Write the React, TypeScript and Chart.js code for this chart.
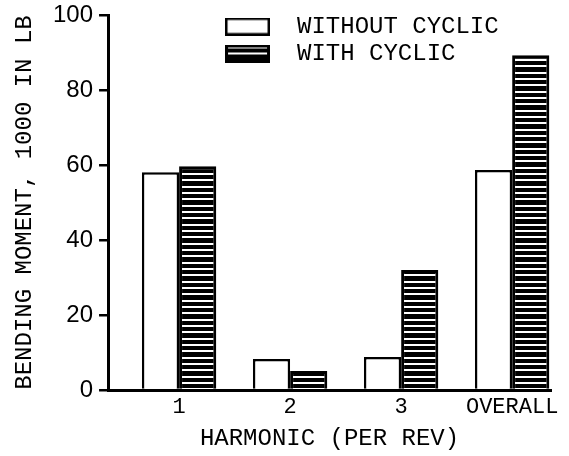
import React, { useEffect, useRef } from "react";
import { Chart, registerables } from "chart.js";

Chart.register(...registerables);

const harmonicLabels = ["1", "2", "3", "OVERALL"];
const withoutCyclic = [58.1, 8.3, 8.8, 58.7];
const withCyclic = [59.7, 5.1, 32.0, 89.3];
const seriesNames = ["WITHOUT CYCLIC", "WITH CYCLIC"];
const yTitle = "BENDING MOMENT, 1000 IN LB";
const xTitle = "HARMONIC (PER REV)";

const MONO = "'Liberation Mono', 'Courier New', monospace";
const SANS = "'Liberation Sans', Arial, sans-serif";

function makeStripePattern(): CanvasPattern | string {
  const c = document.createElement("canvas");
  c.width = 4;
  c.height = 19;
  const ctx = c.getContext("2d");
  if (!ctx) return "#000";
  ctx.fillStyle = "#000";
  ctx.fillRect(0, 0, 4, 19);
  ctx.fillStyle = "#fff";
  [2, 8, 15].forEach((r) => ctx.fillRect(0, r, 4, 2));
  const p = ctx.createPattern(c, "repeat");
  return p || "#000";
}

function makeSwatch(fill: any, lineWidth: number): HTMLCanvasElement {
  const c = document.createElement("canvas");
  c.width = 45;
  c.height = 18;
  const ctx = c.getContext("2d");
  if (ctx) {
    ctx.fillStyle = fill;
    ctx.fillRect(0, 0, c.width, c.height);
    ctx.strokeStyle = "#000";
    ctx.lineWidth = lineWidth;
    ctx.strokeRect(lineWidth / 2, lineWidth / 2, c.width - lineWidth, c.height - lineWidth);
  }
  return c;
}

const legendPlacement = {
  id: "legendPlacement",
  afterLayout(chart: any) {
    const lg = chart.legend;
    const ca = chart.chartArea;
    if (!lg || !ca) return;
    const h = lg.height;
    const w = lg.width;
    lg.left = ca.left + 99;
    lg.top = ca.top - 3.5;
    lg.right = lg.left + w;
    lg.bottom = lg.top + h;
  },
};

export default function App() {
  const ref = useRef<HTMLCanvasElement | null>(null);

  useEffect(() => {
    document.body.style.margin = "0";
    const canvas = ref.current;
    if (!canvas) return;
    const stripes = makeStripePattern();
    const swatches = [makeSwatch("#ffffff", 2.5), makeSwatch(stripes, 3)];
    const chart = new Chart(canvas, {
      type: "bar",
      data: {
        datasets: [
          {
            label: seriesNames[0],
            data: withoutCyclic.map((v, i) => ({ x: i + 1, y: v })),
            backgroundColor: "#ffffff",
            borderColor: "#000000",
            borderWidth: 2.5,
          },
          {
            label: seriesNames[1],
            data: withCyclic.map((v, i) => ({ x: i + 1, y: v })),
            backgroundColor: stripes as any,
            borderColor: "#000000",
            borderWidth: 3,
          },
        ],
      },
      plugins: [legendPlacement],
      options: {
        responsive: false,
        animation: false,
        events: [],
        categoryPercentage: 0.67,
        barPercentage: 1.0,
        layout: { padding: { left: 0, right: 18, top: 0, bottom: 0 } },
        plugins: {
          tooltip: { enabled: false },
          legend: {
            display: true,
            position: "chartArea" as any,
            align: "start",
            labels: {
              usePointStyle: true,
              pointStyleWidth: 75,
              boxHeight: 18,
              padding: 3,
              color: "#000",
              font: { family: MONO, size: 24 },
              generateLabels: (ch: any) => {
                const items = (Chart as any).defaults.plugins.legend.labels.generateLabels(ch);
                return items.map((it: any, i: number) => ({ ...it, pointStyle: swatches[i] }));
              },
            },
          },
        },
        scales: {
          x: {
            type: "linear",
            offset: false,
            min: 0.36,
            max: 4.35,
            afterBuildTicks: (scale: any) => {
              scale.ticks = harmonicLabels.map((_, i) => ({ value: i + 1 }));
            },
            grid: { display: false, drawTicks: false },
            border: { display: true, color: "#000", width: 3 },
            ticks: {
              autoSkip: false,
              maxRotation: 0,
              padding: 6,
              color: "#000",
              font: { family: MONO, size: 22, lineHeight: 1 },
              callback: (v: any) => harmonicLabels[Math.round(Number(v)) - 1] ?? "",
            },
            title: {
              display: true,
              text: xTitle,
              color: "#000",
              font: { family: MONO, size: 24, lineHeight: 1 },
              padding: { top: 3, bottom: 5 },
            },
          },
          y: {
            type: "linear",
            min: 0,
            max: 100,
            grid: {
              display: true,
              drawOnChartArea: false,
              drawTicks: true,
              tickLength: 9,
              color: "#000",
              lineWidth: 2.5,
            },
            border: { display: true, color: "#000", width: 3 },
            ticks: {
              stepSize: 20,
              padding: 6,
              color: "#000",
              font: { family: SANS, size: 24, lineHeight: 0.75 },
            },
            title: {
              display: true,
              text: yTitle,
              color: "#000",
              font: { family: MONO, size: 24, lineHeight: 1 },
              padding: { top: 13, bottom: 10 },
            },
          },
        },
      },
    });
    return () => chart.destroy();
  }, []);

  return (
    <div style={{ width: 569, height: 456, background: "#fff" }}>
      <canvas ref={ref} width={569} height={456} style={{ display: "block" }} />
    </div>
  );
}
